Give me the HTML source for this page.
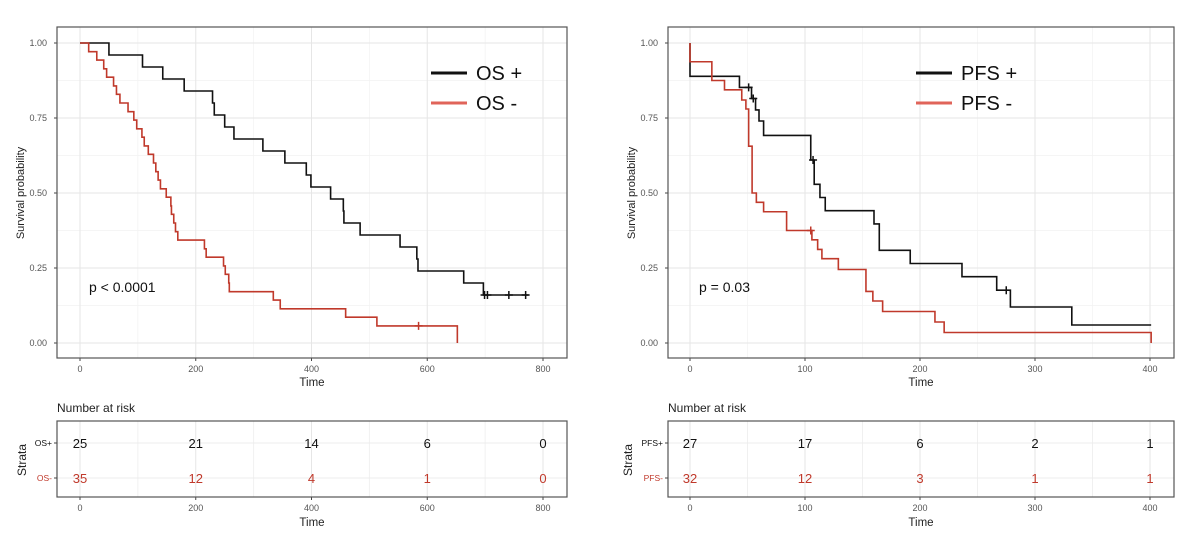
<!DOCTYPE html>
<html><head><meta charset="utf-8"><style>
body{margin:0;background:#fff;}
svg{display:block;font-family:"Liberation Sans",Arial,sans-serif;}
</style></head><body>
<svg id="c" width="1200" height="546" viewBox="0 0 1200 546" xmlns="http://www.w3.org/2000/svg"></svg>
<script>
// ---- Left panel (OS) data ----
const osPosTimes=[0,50,108,143,180,229,232,250,266,316,354,391,399,433,455,456,484,553,582,584,663,697];
const osPosSurv=[1,0.96,0.92,0.88,0.84,0.80,0.76,0.72,0.68,0.64,0.60,0.56,0.52,0.48,0.44,0.40,0.36,0.32,0.28,0.24,0.20,0.16];
const osPosEnd=775;
const osPosCensor=[699,704,741,770];
const osNegTimes=[0,15,29,41,46,58,63,69,83,93,98,107,111,118,127,131,135,139,149,157,158,162,165,169,215,218,248,251,257,258,334,346,459,513];
const osNegSurv=[1,0.971,0.943,0.914,0.886,0.857,0.829,0.800,0.771,0.743,0.714,0.686,0.657,0.629,0.600,0.571,0.543,0.514,0.486,0.457,0.429,0.400,0.371,0.343,0.314,0.286,0.257,0.229,0.200,0.171,0.143,0.114,0.086,0.057];
const osNegEnd=652;
const osNegCensor=[585];
const osXTicks=[0,200,400,600,800];
const osRiskPos=[25,21,14,6,0];
const osRiskNeg=[35,12,4,1,0];
// ---- Right panel (PFS) data ----
const pfsPosTimes=[0,43,53.5,57,60,64,105,108,113,117.6,160,164.6,191.5,236.5,266.7,278.6,332];
const pfsPosSurv=[0.889,0.852,0.815,0.777,0.740,0.692,0.610,0.529,0.485,0.441,0.397,0.309,0.265,0.221,0.176,0.120,0.060];
const pfsPosEnd=401;
const pfsPosCensor=[51,55,107,275];
const pfsNegTimes=[0,19,30,45,48.6,51,54,57.7,64,84,106,111,114.7,129,153,159,167.5,213,221];
const pfsNegSurv=[0.9375,0.875,0.844,0.81,0.78,0.656,0.50,0.469,0.4375,0.375,0.344,0.312,0.281,0.245,0.172,0.14,0.105,0.07,0.035];
const pfsNegEnd=401;
const pfsNegCensor=[105];
const pfsXTicks=[0,100,200,300,400];
const pfsRiskPos=[27,17,6,2,1];
const pfsRiskNeg=[32,12,3,1,1];
const yTicks=[0,0.25,0.5,0.75,1];
const yTickLabels=["0.00","0.25","0.50","0.75","1.00"];

const NS="http://www.w3.org/2000/svg";
const svg=document.getElementById('c');
const RED="#c0392b", LRED="#e0645a";
function mk(tag,attrs,parent,text){const e=document.createElementNS(NS,tag);for(const k in attrs)e.setAttribute(k,attrs[k]);if(text!==undefined)e.textContent=text;(parent||svg).appendChild(e);return e;}

function panel(cfg){
  const g=mk('g',{});
  
  
  const L=cfg.x0,R=cfg.x1,T=27,B=358;
  const xMax=cfg.xTicks[cfg.xTicks.length-1];
  const sx=t=>cfg.px0+(t/xMax)*(cfg.px1-cfg.px0);
  const sy=v=>343-v*300;
  for(let i=0;i<cfg.xTicks.length-1;i++){const m=(cfg.xTicks[i]+cfg.xTicks[i+1])/2;
    const l=mk('line',{x1:sx(m),x2:sx(m),y1:T,y2:B,stroke:'#f2f2f2','stroke-width':0.7},g);
    }
  for(let i=0;i<yTicks.length-1;i++){const m=(yTicks[i]+yTicks[i+1])/2;
    const l=mk('line',{x1:L,x2:R,y1:sy(m),y2:sy(m),stroke:'#f2f2f2','stroke-width':0.7},g);
    }
  cfg.xTicks.forEach(t=>{const l=mk('line',{x1:sx(t),x2:sx(t),y1:T,y2:B,stroke:'#e6e6e6','stroke-width':1},g);
    
    const tl=mk('text',{x:sx(t),y:372,'font-size':9,fill:'#555','text-anchor':'middle'},g,String(t));
    
    mk('line',{x1:sx(t),x2:sx(t),y1:B,y2:B+3,stroke:'#444'},g);});
  yTicks.forEach((v,i)=>{const l=mk('line',{x1:L,x2:R,y1:sy(v),y2:sy(v),stroke:'#e6e6e6','stroke-width':1},g);
    
    const tl=mk('text',{x:L-10,y:sy(v)+3,'font-size':9,fill:'#555','text-anchor':'end'},g,yTickLabels[i]);
    
    mk('line',{x1:L-3,x2:L,y1:sy(v),y2:sy(v),stroke:'#444'},g);});
  const fr=mk('rect',{x:L,y:T,width:R-L,height:B-T,fill:'none',stroke:'#555','stroke-width':1.2},g);
  
  const xt=mk('text',{x:(L+R)/2,y:386,'font-size':11.5,fill:'#222','text-anchor':'middle'},g,'Time');
  
  const yt=mk('text',{x:0,y:0,'font-size':11,fill:'#222','text-anchor':'middle',transform:`translate(${L-33},193) rotate(-90)`},g,'Survival probability');
  
  function curve(times,surv,end,censor,color,name,dropZero){
    let d=`M${sx(times[0])},${sy(1)}`;
    for(let i=0;i<times.length;i++){d+=` L${sx(times[i])},${sy(surv[i])}`;
      const nt=i<times.length-1?times[i+1]:end; d+=` L${sx(nt)},${sy(surv[i])}`;}
    if(dropZero) d+=` L${sx(end)},${sy(0)}`;
    const p=mk('path',{d,fill:'none',stroke:color,'stroke-width':1.6},g);
    
    censor.forEach(c=>{let v=surv[0];for(let i=0;i<times.length;i++)if(times[i]<=c)v=surv[i];
      const cx=sx(c),cy=sy(v);
      const m=mk('path',{d:`M${cx-4},${cy} H${cx+4} M${cx},${cy-4} V${cy+4}`,stroke:color,'stroke-width':1.5},g);
      });
  }
  curve(cfg.posT,cfg.posS,cfg.posEnd,cfg.posC,'#111',cfg.name+'-pos',false);
  curve(cfg.negT,cfg.negS,cfg.negEnd,cfg.negC,RED,cfg.name+'-neg',true);
  [[cfg.labels[0],'#111',73],[cfg.labels[1],LRED,103]].forEach((e,i)=>{
    const lg=mk('g',{},g);
    mk('line',{x1:cfg.legX,x2:cfg.legX+36,y1:e[2],y2:e[2],stroke:e[1],'stroke-width':3},lg);
    mk('text',{x:cfg.legX+45,y:e[2]+7,'font-size':20,fill:'#111'},lg,e[0]);});
  const pv=mk('text',{x:cfg.pX,y:292,'font-size':14,fill:'#111'},g,cfg.pText);
  
  const rt=mk('g',{},g);
  const ti=mk('text',{x:L,y:412,'font-size':12,fill:'#222'},rt,'Number at risk');
  
  const rT=421,rB=497;
  for(let i=0;i<cfg.xTicks.length-1;i++){const m=(cfg.xTicks[i]+cfg.xTicks[i+1])/2;mk('line',{x1:sx(m),x2:sx(m),y1:rT,y2:rB,stroke:'#f0f0f0'},rt);}
  cfg.xTicks.forEach(t=>{mk('line',{x1:sx(t),x2:sx(t),y1:rT,y2:rB,stroke:'#e6e6e6'},rt);
    mk('text',{x:sx(t),y:511,'font-size':9,fill:'#555','text-anchor':'middle'},rt,String(t));
    mk('line',{x1:sx(t),x2:sx(t),y1:rB,y2:rB+3,stroke:'#444'},rt);});
  mk('line',{x1:L,x2:R,y1:443,y2:443,stroke:'#ececec'},rt);
  mk('line',{x1:L,x2:R,y1:478,y2:478,stroke:'#ececec'},rt);
  mk('rect',{x:L,y:rT,width:R-L,height:rB-rT,fill:'none',stroke:'#555','stroke-width':1.2},rt);
  mk('text',{x:(L+R)/2,y:526,'font-size':11.5,fill:'#222','text-anchor':'middle'},rt,'Time');
  const st=mk('text',{x:0,y:0,'font-size':12,fill:'#222','text-anchor':'middle',transform:`translate(${L-cfg.strataOff},460) rotate(-90)`},rt,'Strata');
  
  mk('line',{x1:L-3,x2:L,y1:443,y2:443,stroke:'#444'},rt);
  mk('line',{x1:L-3,x2:L,y1:478,y2:478,stroke:'#444'},rt);
  const s1=mk('text',{x:L-5,y:446,'font-size':8.5,fill:'#111','text-anchor':'end'},rt,cfg.strata[0]);
  
  const s2=mk('text',{x:L-5,y:481,'font-size':8.5,fill:RED,'text-anchor':'end'},rt,cfg.strata[1]);
  
  cfg.xTicks.forEach((t,i)=>{
    const a=mk('text',{x:sx(t),y:448,'font-size':13,fill:'#111','text-anchor':'middle'},rt,String(cfg.riskPos[i]));
    
    const b=mk('text',{x:sx(t),y:483,'font-size':13,fill:RED,'text-anchor':'middle'},rt,String(cfg.riskNeg[i]));
    });
}
panel({name:'os',x0:57,x1:567,px0:80,px1:543,xTicks:osXTicks,strataOff:31,
  posT:osPosTimes,posS:osPosSurv,posEnd:osPosEnd,posC:osPosCensor,
  negT:osNegTimes,negS:osNegSurv,negEnd:osNegEnd,negC:osNegCensor,
  labels:['OS +','OS -'],legX:431,pX:89,pText:'p < 0.0001',strata:['OS+','OS-'],riskPos:osRiskPos,riskNeg:osRiskNeg});
panel({name:'pfs',x0:668,x1:1174,px0:690,px1:1150,xTicks:pfsXTicks,strataOff:36,
  posT:pfsPosTimes,posS:pfsPosSurv,posEnd:pfsPosEnd,posC:pfsPosCensor,
  negT:pfsNegTimes,negS:pfsNegSurv,negEnd:pfsNegEnd,negC:pfsNegCensor,
  labels:['PFS +','PFS -'],legX:916,pX:699,pText:'p = 0.03',strata:['PFS+','PFS-'],riskPos:pfsRiskPos,riskNeg:pfsRiskNeg});
</script>
</body></html>
